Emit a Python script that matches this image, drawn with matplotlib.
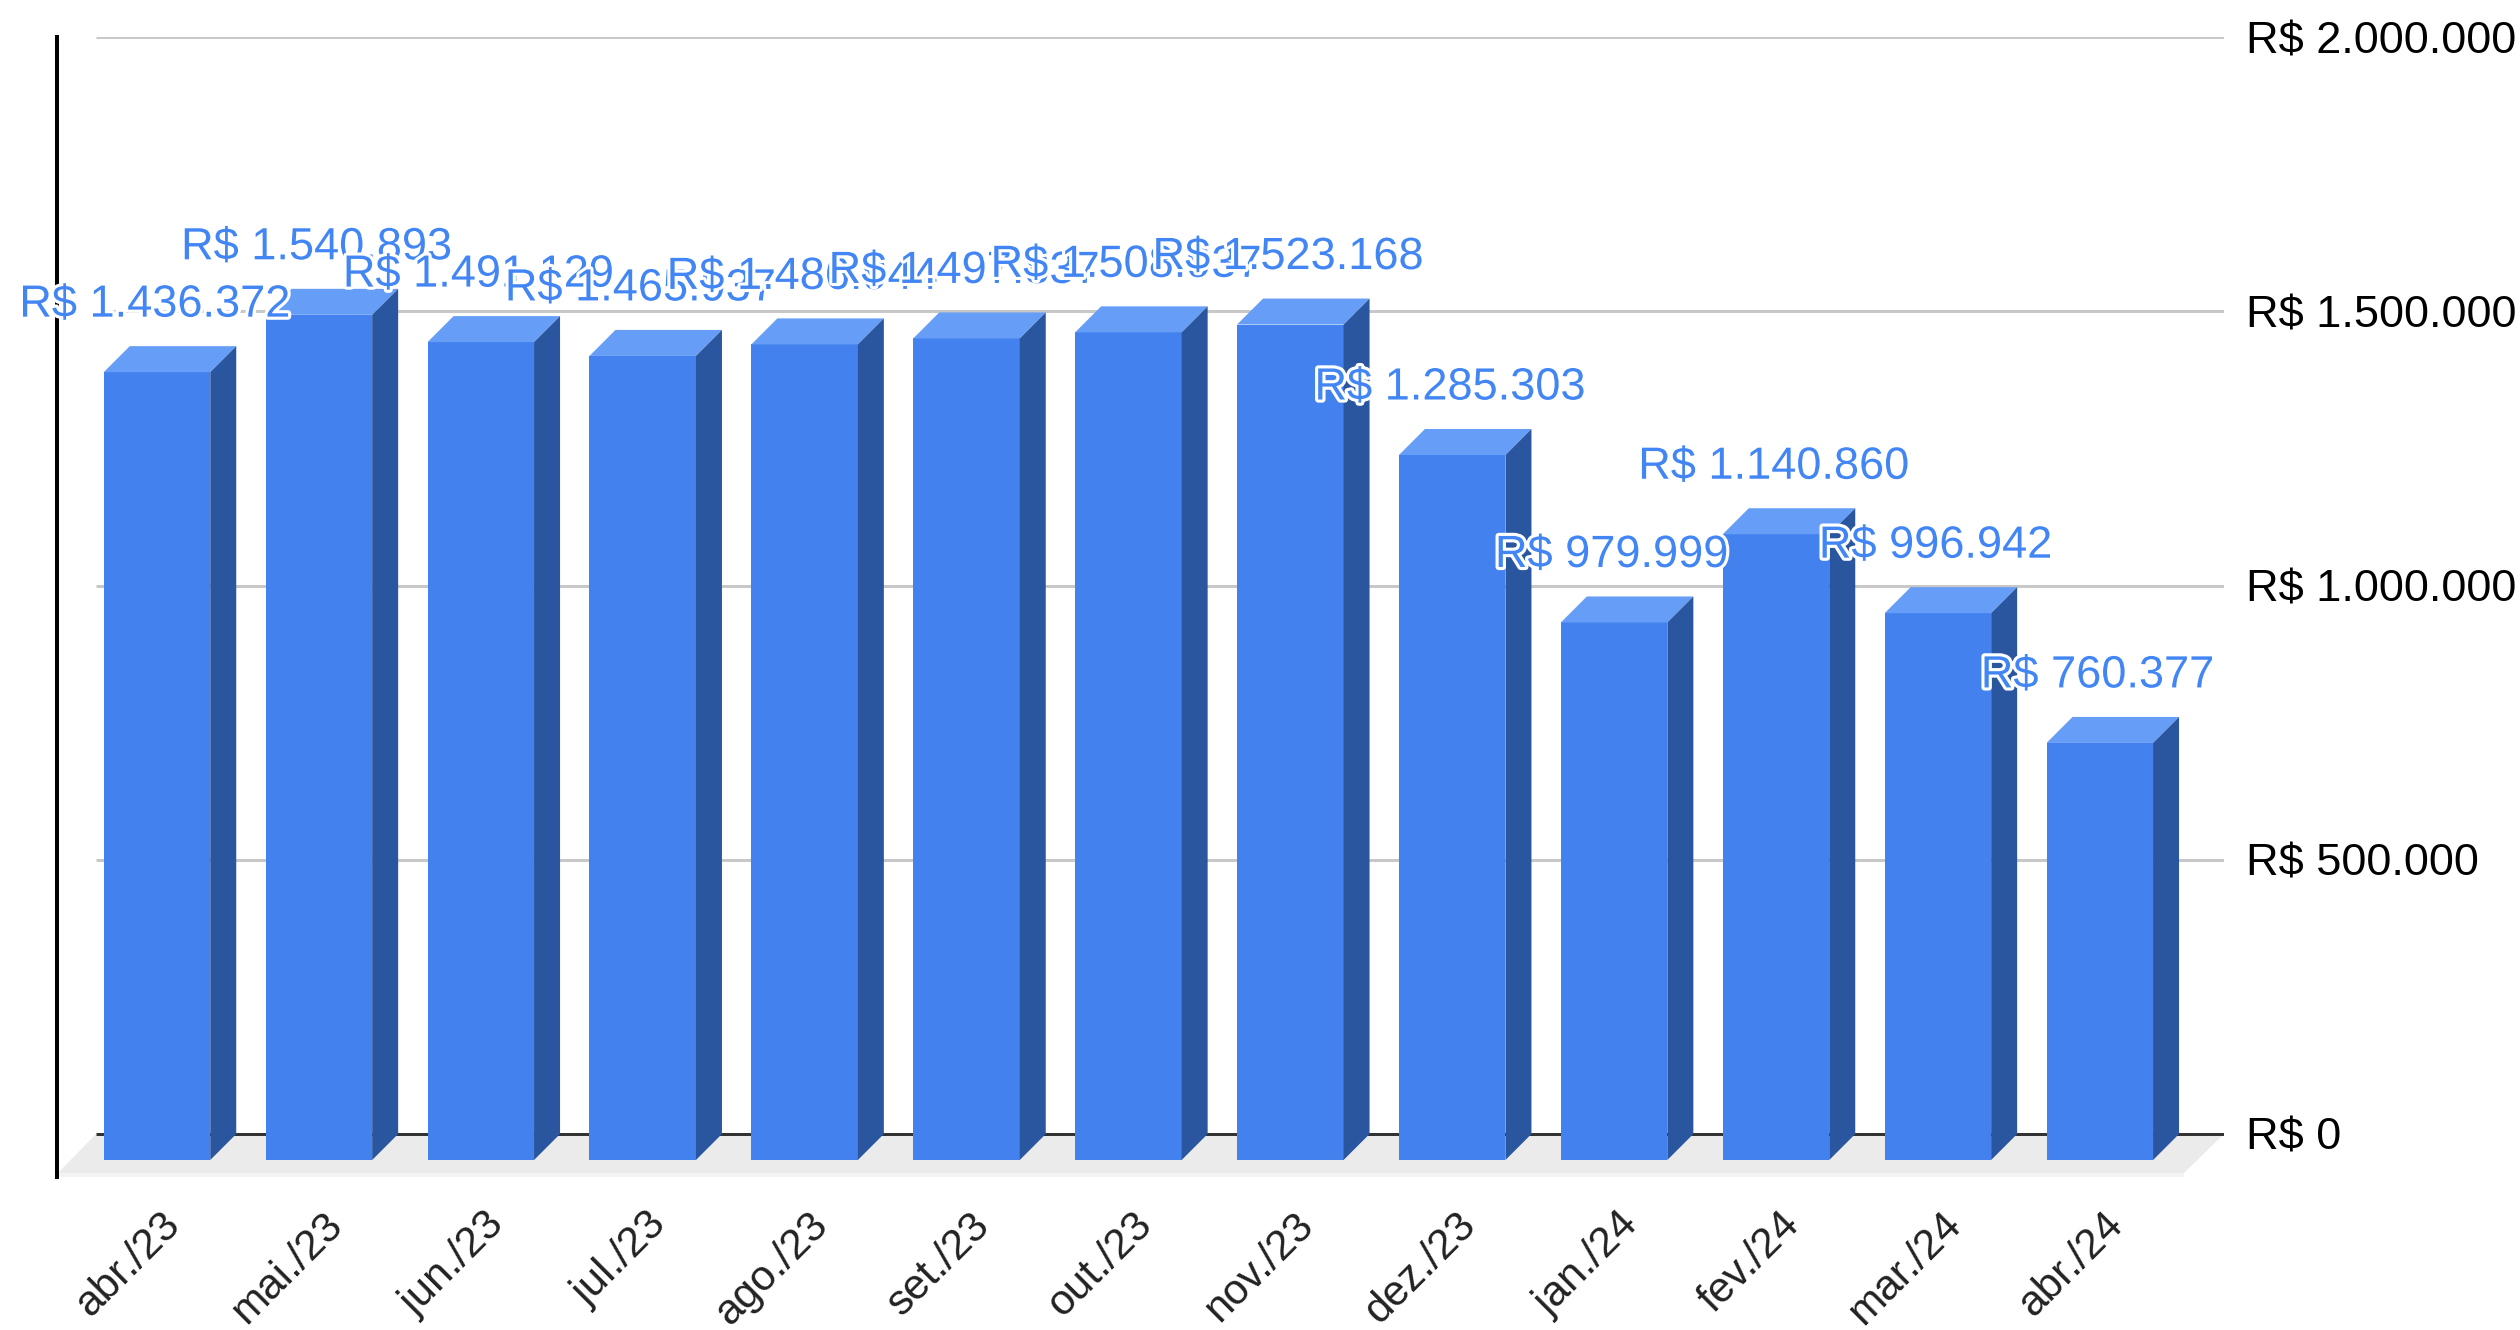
import matplotlib
matplotlib.use("Agg")
import matplotlib.pyplot as plt
import matplotlib.patheffects as pe
from matplotlib.patches import Polygon

# dados
meses = ["abr./23", "mai./23", "jun./23", "jul./23", "ago./23", "set./23", "out./23",
         "nov./23", "dez./23", "jan./24", "fev./24", "mar./24", "abr./24"]
valores = [1436372, 1540893, 1491129, 1465937, 1486944, 1497837, 1508937,
           1523168, 1285303, 979999, 1140860, 996942, 760377]
rotulos = ["R$ 1.436.372", "R$ 1.540.893", "R$ 1.491.129", "R$ 1.465.937", "R$ 1.486.944",
           "R$ 1.497.837", "R$ 1.508.937", "R$ 1.523.168", "R$ 1.285.303", "R$ 979.999",
           "R$ 1.140.860", "R$ 996.942", "R$ 760.377"]
marcas = [0, 500000, 1000000, 1500000, 2000000]
marcas_txt = ["R$ 0", "R$ 500.000", "R$ 1.000.000", "R$ 1.500.000", "R$ 2.000.000"]

plt.rcParams["font.family"] = ["Liberation Sans", "DejaVu Sans"]

W, H = 2520, 1330
px_x = 161.9            # pixels por categoria
px_y = 0.5485 / 1000    # pixels por real
x0 = 157                # centro da primeira barra
base = 1160             # base frontal das barras
dx = 26 / px_x          # profundidade 3D
dy = 26 / px_y
larg = 106.5 / px_x
pt = 0.72               # 1 px em pontos

fig = plt.figure(figsize=(W / 100, H / 100), dpi=100)
esq, dir_, topo, fundo = 57, 2224, 37, 1177
ax = fig.add_axes([esq / W, 1 - fundo / H, (dir_ - esq) / W, (fundo - topo) / H])
ax.set_xlim((esq - x0) / px_x, (dir_ - x0) / px_x)
ax.set_ylim(-(fundo - base) / px_y, (base - topo) / px_y)

for s in ["top", "right", "bottom"]:
    ax.spines[s].set_visible(False)
ax.spines["left"].set_linewidth(4 * pt)
ax.spines["left"].set_color("black")

# chão
xl, xr = ax.get_xlim()
piso_y = ax.get_ylim()[0]
ax.add_patch(Polygon([(xl + 39 / px_x, dy), (xr, dy), (xr - 40 / px_x, piso_y + 4 / px_y),
                      (xl + 1 / px_x, piso_y + 4 / px_y)], facecolor="#ebebeb", edgecolor="none", zorder=1))
ax.add_patch(Polygon([(xl + 1 / px_x, piso_y + 4 / px_y), (xr - 40 / px_x, piso_y + 4 / px_y),
                      (xr - 40 / px_x, piso_y), (xl + 1 / px_x, piso_y)], facecolor="#f3f3f3", edgecolor="none", zorder=1))

# linhas de grade na parede do fundo
for m in marcas:
    cor = "#333333" if m == 0 else "#c8c8c8"
    ax.hlines(m + dy, xl + 39 / px_x, xr, color=cor, linewidth=3 * pt, zorder=2)

# barras
pos = list(range(len(valores)))
ax.bar(pos, valores, width=larg, color="#4382ee", zorder=3)
for i, v in zip(pos, valores):
    d = i + larg / 2
    e = i - larg / 2
    ax.add_patch(Polygon([(e, v), (d, v), (d + dx, v + dy), (e + dx, v + dy)],
                         facecolor="#669df6", edgecolor="none", zorder=3))
    ax.add_patch(Polygon([(d, 0), (d + dx, dy), (d + dx, v + dy), (d, v)],
                         facecolor="#29569e", edgecolor="none", zorder=3))

# rótulos dos dados
for i, v, r in zip(pos, valores, rotulos):
    ax.text(i - 2.4 / px_x, v + 67 / px_y, r, color="#4285f4", fontsize=32.5, ha="center", va="center",
            zorder=4 + i, path_effects=[pe.withStroke(linewidth=4.5, foreground="white")])

# eixos
ax.yaxis.tick_right()
ax.set_yticks([m + dy for m in marcas], marcas_txt, fontsize=32.5, color="black")
ax.tick_params(axis="y", length=0, pad=16)
ax.set_xticks([p + 0.02 for p in pos], meses, rotation=45, ha="right", rotation_mode="anchor", fontsize=30.5)
ax.tick_params(axis="x", length=0, pad=20, colors="#222222")

fig.savefig("out.png", dpi=100)
